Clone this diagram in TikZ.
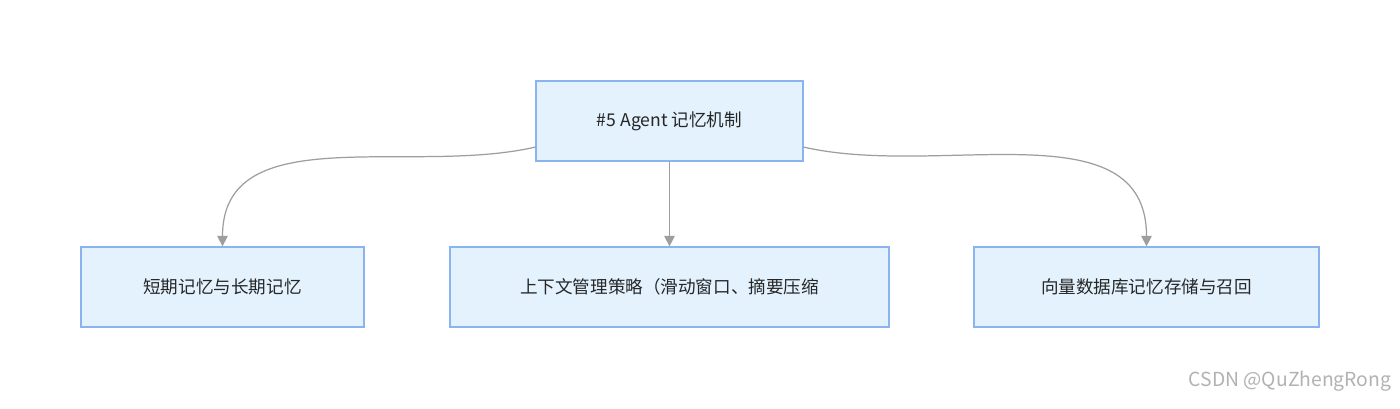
\documentclass[tikz,border=0pt]{standalone}
\usepackage{fontspec}
\setmainfont{Noto Sans CJK SC}
\usetikzlibrary{arrows.meta}
\definecolor{boxfill}{HTML}{E3F2FD}
\definecolor{boxline}{HTML}{8AB4F0}
\definecolor{linkgray}{HTML}{9E9E9E}
\tikzset{
  topic/.style={draw=boxline,fill=boxfill,line width=0.7pt,minimum height=1.6cm,
    font=\fontsize{10}{12}\selectfont,text=black!85},
  link/.style={draw=linkgray,line width=0.7pt,-{Triangle[length=6pt,width=6pt,fill=linkgray]}}
}
\begin{document}
\begin{tikzpicture}
      \fill[white] (0,0) rectangle (28,8.18);

      \node[topic,minimum width=5.34cm] (root) at (13.39,5.76) {\#5 Agent 记忆机制};
      \node[topic,minimum width=5.66cm] (short) at (4.45,2.44) {短期记忆与长期记忆};
      \node[topic,minimum width=8.78cm] (ctx) at (13.39,2.44) {上下文管理策略（滑动窗口、摘要压缩};
      \node[topic,minimum width=6.90cm] (vec) at (22.93,2.44) {向量数据库记忆存储与召回};

      \draw[link] (root.191) to[out=193,in=90] (short.north);
      \draw[link] (root.south) -- (ctx.north);
      \draw[link] (root.-11) to[out=-13,in=90] (vec.north);

      \node[anchor=east,text=black!30,font=\fontsize{11}{13}\selectfont] (mark) at (27.95,0.55) {CSDN @QuZhengRong};
\end{tikzpicture}
\end{document}
